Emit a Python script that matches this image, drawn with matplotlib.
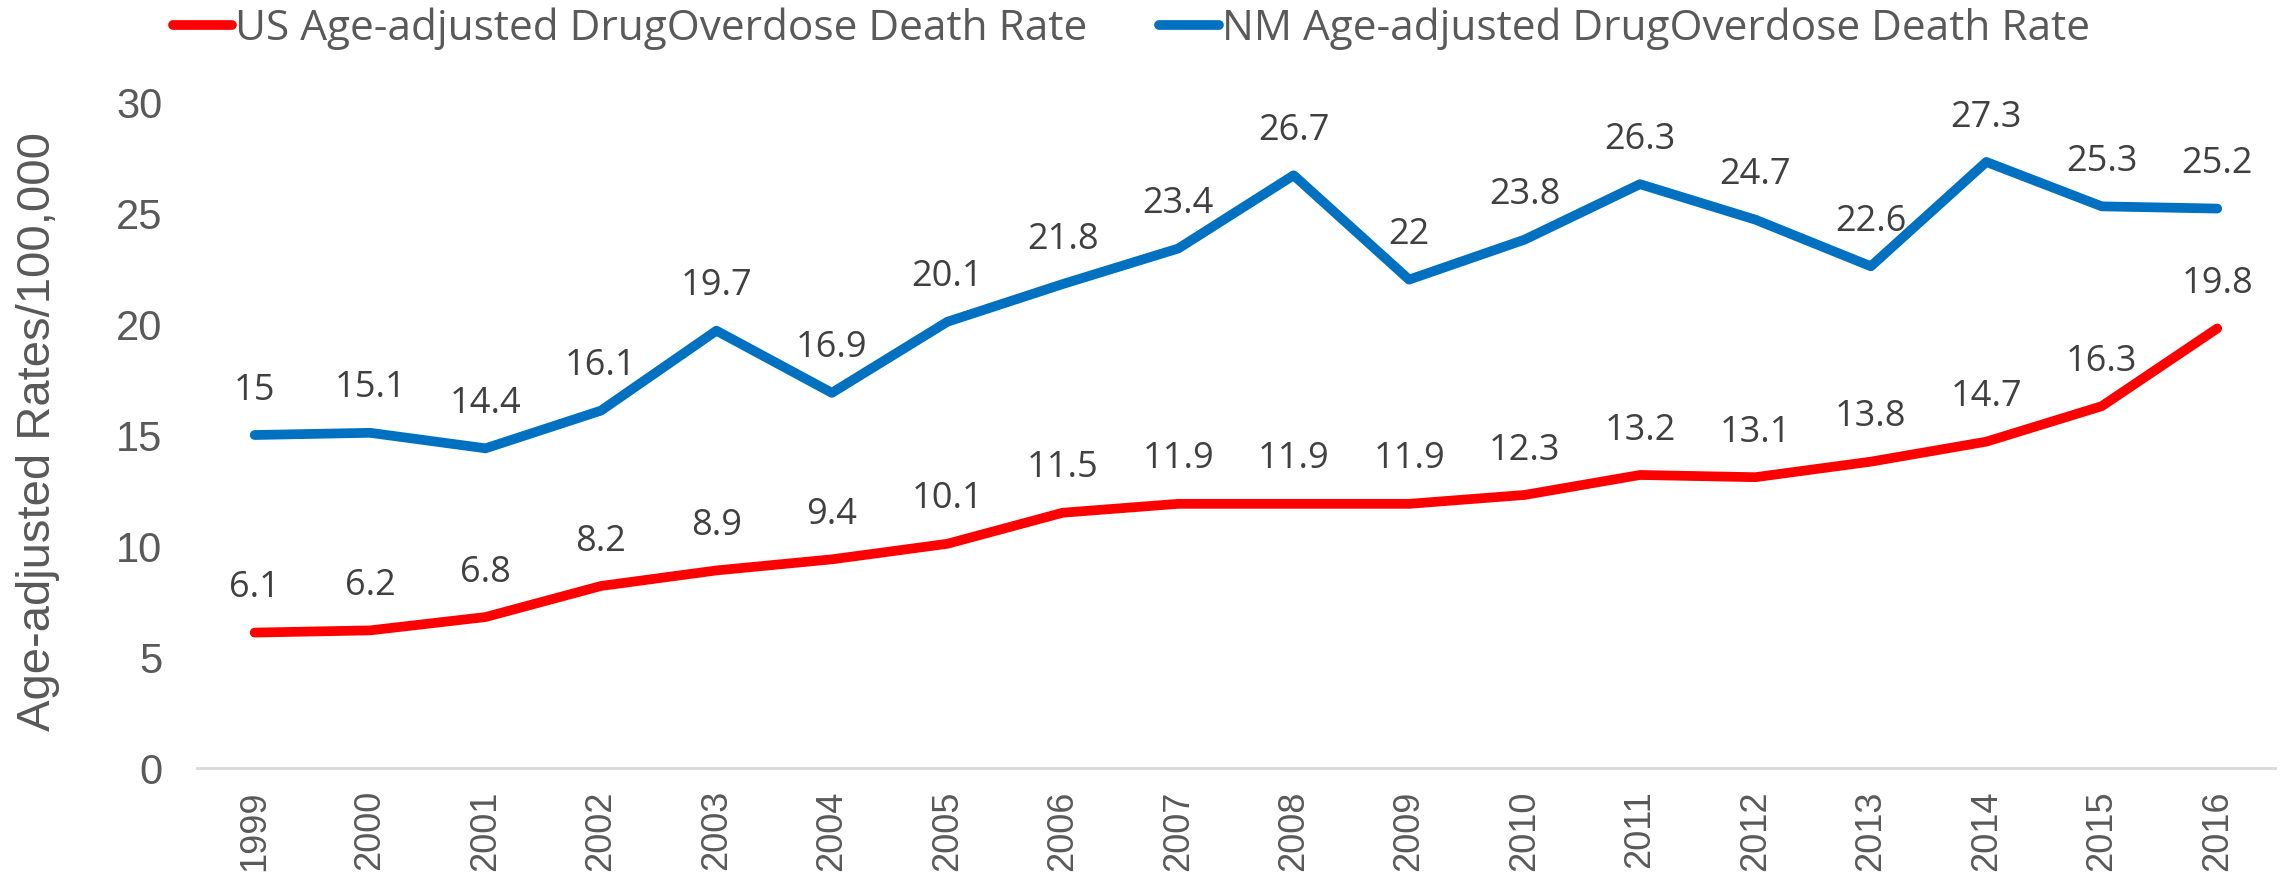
import matplotlib
matplotlib.use('Agg')
import matplotlib.pyplot as plt
import numpy as np

# Data
years = ['1999', '2000', '2001', '2002', '2003', '2004', '2005', '2006', '2007',
         '2008', '2009', '2010', '2011', '2012', '2013', '2014', '2015', '2016']
us_rate = [6.1, 6.2, 6.8, 8.2, 8.9, 9.4, 10.1, 11.5, 11.9,
           11.9, 11.9, 12.3, 13.2, 13.1, 13.8, 14.7, 16.3, 19.8]
nm_rate = [15, 15.1, 14.4, 16.1, 19.7, 16.9, 20.1, 21.8, 23.4,
           26.7, 22, 23.8, 26.3, 24.7, 22.6, 27.3, 25.3, 25.2]
us_label = 'US Age-adjusted DrugOverdose Death Rate'
nm_label = 'NM Age-adjusted DrugOverdose Death Rate'

label_font = ['Open Sans', 'DejaVu Sans']
axis_font = ['Liberation Sans', 'DejaVu Sans']
tick_color = '#595959'
label_color = '#404040'

fig = plt.figure(figsize=(22.82, 8.84), dpi=100)
ax = fig.add_axes([0.0863, 0.1312, 0.9106, 0.7534])

x = np.arange(len(years))
line_us, = ax.plot(x, us_rate, color='#FF0000', lw=7, solid_capstyle='round', solid_joinstyle='round')
line_nm, = ax.plot(x, nm_rate, color='#0070C0', lw=7, solid_capstyle='round', solid_joinstyle='round')

for xi, v in zip(x, us_rate):
    ax.annotate(f'{v:g}', (xi, v), xytext=(0, 32), textcoords='offset points',
                ha='center', va='center', fontsize=26, color=label_color, family=label_font)
for xi, v in zip(x, nm_rate):
    ax.annotate(f'{v:g}', (xi, v), xytext=(0, 32), textcoords='offset points',
                ha='center', va='center', fontsize=26, color=label_color, family=label_font)

ax.set_xlim(-0.5, len(years) - 0.5)
ax.set_ylim(0, 30)
ax.set_yticks(np.arange(0, 31, 5))
ax.set_xticks(x)
ax.set_xticklabels(years, rotation=90)

for s in ['top', 'right', 'left']:
    ax.spines[s].set_visible(False)
ax.spines['bottom'].set_color('#D9D9D9')
ax.spines['bottom'].set_linewidth(2)

ax.tick_params(axis='y', length=0, pad=25, labelsize=30, labelcolor=tick_color)
ax.tick_params(axis='x', length=0, pad=16, labelsize=26, labelcolor=tick_color)
for lab in ax.get_xticklabels() + ax.get_yticklabels():
    lab.set_family(axis_font)

ax.set_ylabel('Age-adjusted Rates/100,000', fontsize=34, color=tick_color, family=axis_font)
ax.yaxis.set_label_coords(-0.066, 0.505)

fig.legend([line_us, line_nm], [us_label, nm_label], loc='center', bbox_to_anchor=(0.4957, 0.968),
           ncol=2, frameon=False, handlelength=1.4, handletextpad=0.07, columnspacing=1.7,
           prop={'family': label_font, 'size': 30.5}, labelcolor=tick_color)

plt.savefig('out.png', dpi=100)
